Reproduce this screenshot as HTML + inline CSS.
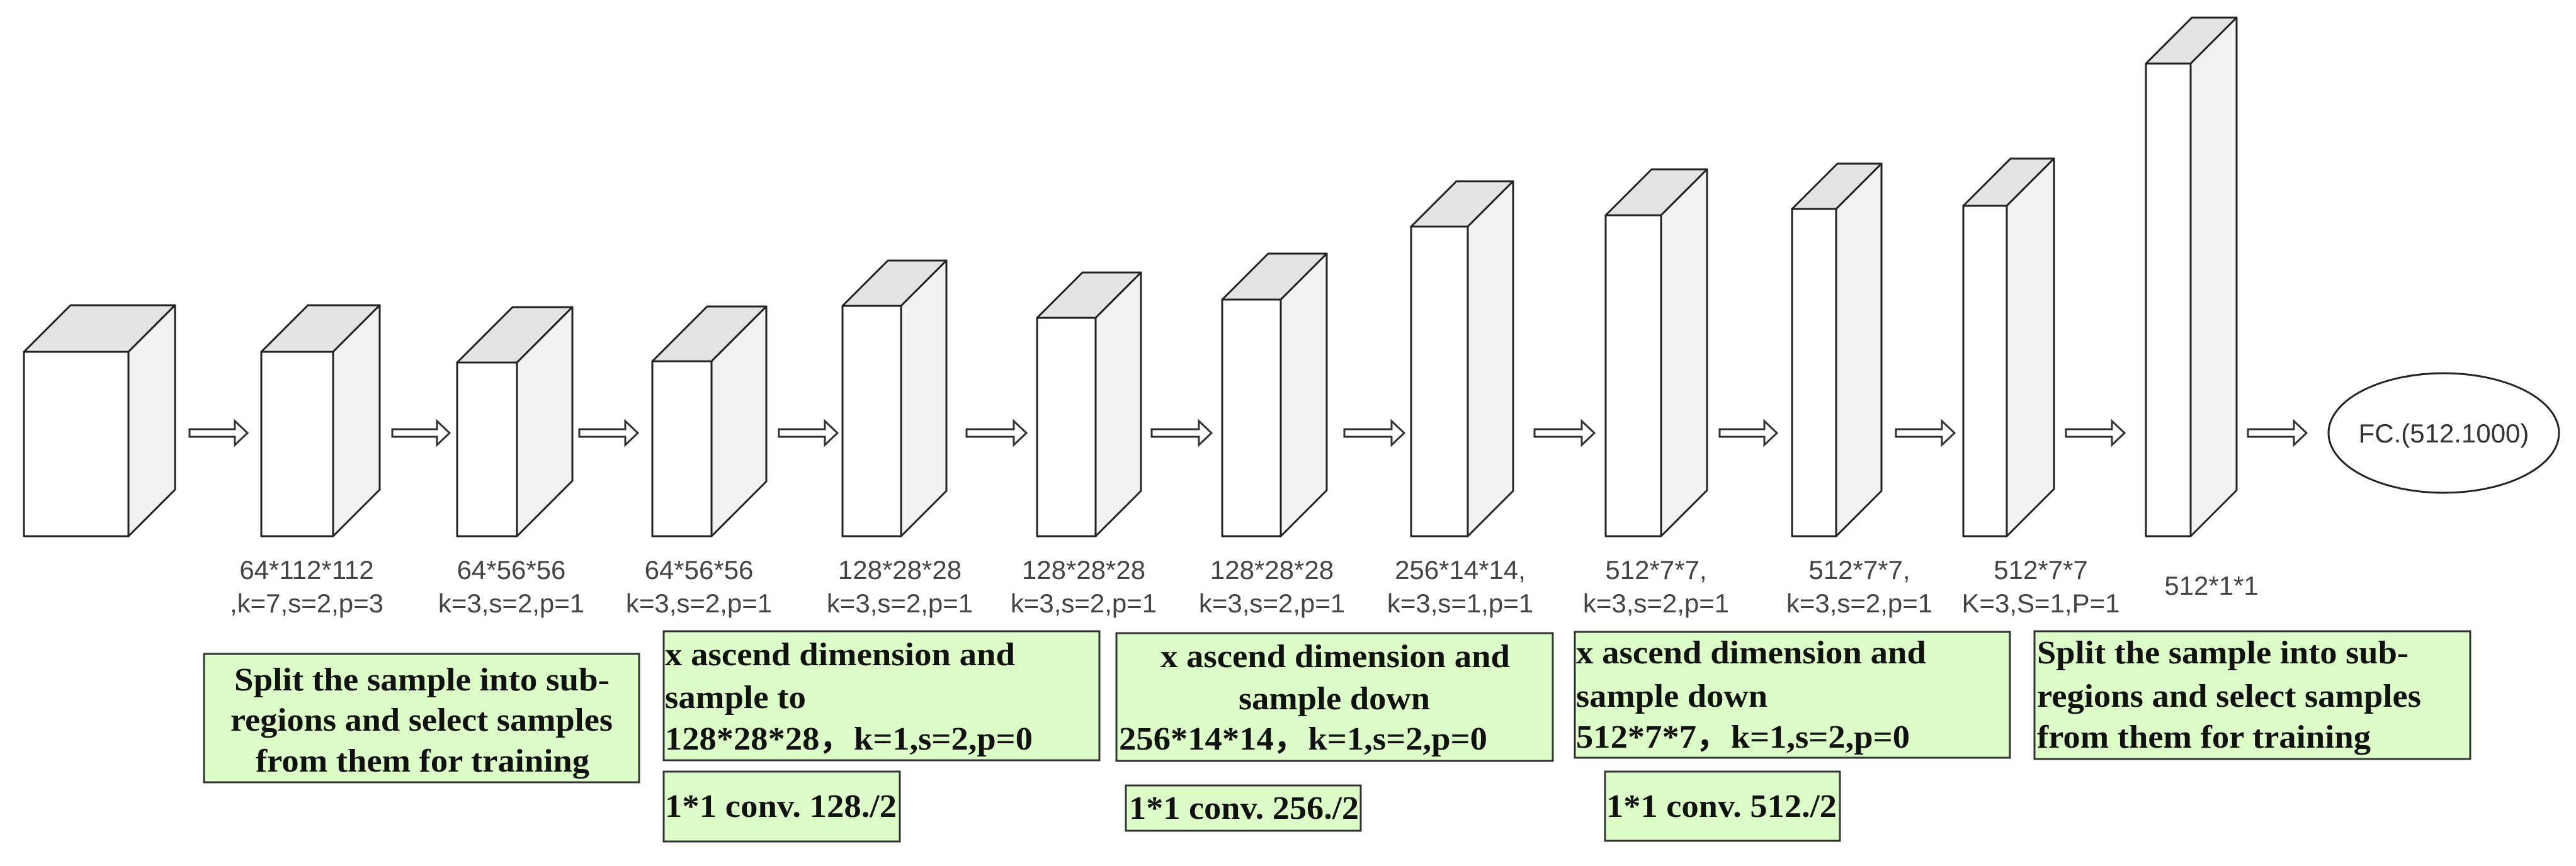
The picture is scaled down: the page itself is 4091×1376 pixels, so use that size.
<!DOCTYPE html>
<html><head><meta charset="utf-8"><style>
html,body{margin:0;padding:0;background:#fff;}
svg{display:block;}
.lbl{font-family:"Liberation Sans",sans-serif;font-size:42px;fill:#444;text-anchor:middle;}
.gt{font-family:"Liberation Serif",serif;font-weight:bold;font-size:52px;fill:#111;}
</style></head><body>
<svg id="d" width="4091" height="1376" viewBox="0 0 4091 1376" xmlns="http://www.w3.org/2000/svg"></svg>
<script>
// layer blocks: front-face left x, front width, front top y, depth offset
const blockX=[38,415,726,1036,1338,1647,1941,2241,2550,2846,3118,3408];
const blockW=[166,114,95,94,93,93,93,90,88,70,69,71];
const blockTop=[559,559,576,574,486,505,476,360,342,332,327,101];
const blockDepth=[74,74,88,87,72,72,73,72,73,72,75,73];
const blockBottom=852;
const arrowX=[301,623,920,1237,1535,1829,2135,2437,2731,3011,3281,3570];
const arrowLen=[92,91,93,93,95,95,95,95,91,93,93,93];
const labelX=[487,812,1110,1429,1721,2020,2319,2630,2953,3241];
const labelL1=["64*112*112","64*56*56","64*56*56","128*28*28","128*28*28","128*28*28","256*14*14,","512*7*7,","512*7*7,","512*7*7"];
const labelL2=[",k=7,s=2,p=3","k=3,s=2,p=1","k=3,s=2,p=1","k=3,s=2,p=1","k=3,s=2,p=1","k=3,s=2,p=1","k=3,s=1,p=1","k=3,s=2,p=1","k=3,s=2,p=1","K=3,S=1,P=1"];
const NS="http://www.w3.org/2000/svg";
const svg=document.getElementById('d');
function mk(t,a){const e=document.createElementNS(NS,t);for(const k in a)e.setAttribute(k,a[k]);svg.appendChild(e);return e;}
for(let i=0;i<blockX.length;i++){
  const x=blockX[i],w=blockW[i],t=blockTop[i],d=blockDepth[i],b=blockBottom;
  const g=document.createElementNS(NS,'g');svg.appendChild(g);
  
  
  const st='stroke:#222;stroke-width:3;stroke-linejoin:round';
  const top=document.createElementNS(NS,'polygon');
  top.setAttribute('points',`${x},${t} ${x+d},${t-d} ${x+w+d},${t-d} ${x+w},${t}`);
  top.setAttribute('style','fill:#e3e3e3;'+st);g.appendChild(top);
  const side=document.createElementNS(NS,'polygon');
  side.setAttribute('points',`${x+w},${t} ${x+w+d},${t-d} ${x+w+d},${b-d} ${x+w},${b}`);
  side.setAttribute('style','fill:#f2f2f2;'+st);g.appendChild(side);
  const fr=document.createElementNS(NS,'rect');
  fr.setAttribute('x',x);fr.setAttribute('y',t);fr.setAttribute('width',w);fr.setAttribute('height',b-t);
  fr.setAttribute('style','fill:#fff;'+st);g.appendChild(fr);
}
for(let i=0;i<arrowX.length;i++){
  const x=arrowX[i],L=arrowLen[i],y=688,h=20;
  const p=mk('polygon',{points:`${x},${y-6} ${x+L-h},${y-6} ${x+L-h},${y-19} ${x+L},${y} ${x+L-h},${y+19} ${x+L-h},${y+6} ${x},${y+6}`,style:'fill:#fff;stroke:#333;stroke-width:3;stroke-linejoin:miter'});
  
  
}
for(let i=0;i<labelX.length;i++){
  const t1=mk('text',{x:labelX[i],y:920,class:'lbl'});t1.textContent=labelL1[i];
  
  
  const t2=mk('text',{x:labelX[i],y:973,class:'lbl'});t2.textContent=labelL2[i];
  
  
}
</script>
<svg style="position:absolute;left:0;top:0" width="4091" height="1376" viewBox="0 0 4091 1376" xmlns="http://www.w3.org/2000/svg">
<text x="3512" y="945" class="lbl">512*1*1</text>
<ellipse cx="3881" cy="688" rx="183" ry="95" fill="#fff" stroke="#222" stroke-width="3"/>
<text x="3881" y="703" class="lbl" style="fill:#333">FC.(512.1000)</text>

<g>
<rect x="324" y="1039" width="691" height="204" fill="#dcfcc8" stroke="#333" stroke-width="3"/>
<text class="gt" x="372" y="1097" textLength="596" lengthAdjust="spacingAndGlyphs">Split the sample into sub-</text>
<text class="gt" x="366" y="1161" textLength="607" lengthAdjust="spacingAndGlyphs">regions and select samples</text>
<text class="gt" x="406" y="1226" textLength="530" lengthAdjust="spacingAndGlyphs">from them for training</text>
</g>
<g>
<rect x="1054" y="1003" width="692" height="205" fill="#dcfcc8" stroke="#333" stroke-width="3"/>
<text class="gt" x="1056" y="1057" textLength="556" lengthAdjust="spacingAndGlyphs">x ascend dimension and</text>
<text class="gt" x="1056" y="1125" textLength="224" lengthAdjust="spacingAndGlyphs">sample to</text>
<text class="gt" x="1056" y="1191" textLength="584" lengthAdjust="spacingAndGlyphs">128*28*28，k=1,s=2,p=0</text>
</g>
<g>
<rect x="1054" y="1226" width="375" height="111" fill="#dcfcc8" stroke="#333" stroke-width="3"/>
<text class="gt" x="1056" y="1298" textLength="368" lengthAdjust="spacingAndGlyphs">1*1 conv. 128./2</text>
</g>
<g>
<rect x="1773" y="1006" width="693" height="203" fill="#dcfcc8" stroke="#333" stroke-width="3"/>
<text class="gt" x="1843" y="1060" textLength="555" lengthAdjust="spacingAndGlyphs">x ascend dimension and</text>
<text class="gt" x="1967" y="1127" textLength="304" lengthAdjust="spacingAndGlyphs">sample down</text>
<text class="gt" x="1777" y="1191" textLength="585" lengthAdjust="spacingAndGlyphs">256*14*14，k=1,s=2,p=0</text>
</g>
<g>
<rect x="1788" y="1248" width="373" height="72" fill="#dcfcc8" stroke="#333" stroke-width="3"/>
<text class="gt" x="1793" y="1301" textLength="365" lengthAdjust="spacingAndGlyphs">1*1 conv. 256./2</text>
</g>
<g>
<rect x="2501" y="1004" width="691" height="200" fill="#dcfcc8" stroke="#333" stroke-width="3"/>
<text class="gt" x="2503" y="1054" textLength="556" lengthAdjust="spacingAndGlyphs">x ascend dimension and</text>
<text class="gt" x="2503" y="1123" textLength="304" lengthAdjust="spacingAndGlyphs">sample down</text>
<text class="gt" x="2503" y="1188" textLength="530" lengthAdjust="spacingAndGlyphs">512*7*7，k=1,s=2,p=0</text>
</g>
<g>
<rect x="2549" y="1226" width="373" height="110" fill="#dcfcc8" stroke="#333" stroke-width="3"/>
<text class="gt" x="2551" y="1298" textLength="366" lengthAdjust="spacingAndGlyphs">1*1 conv. 512./2</text>
</g>
<g>
<rect x="3231" y="1003" width="692" height="203" fill="#dcfcc8" stroke="#333" stroke-width="3"/>
<text class="gt" x="3235" y="1054" textLength="590" lengthAdjust="spacingAndGlyphs">Split the sample into sub-</text>
<text class="gt" x="3235" y="1123" textLength="610" lengthAdjust="spacingAndGlyphs">regions and select samples</text>
<text class="gt" x="3235" y="1188" textLength="530" lengthAdjust="spacingAndGlyphs">from them for training</text>
</g>
</svg>
</body></html>
